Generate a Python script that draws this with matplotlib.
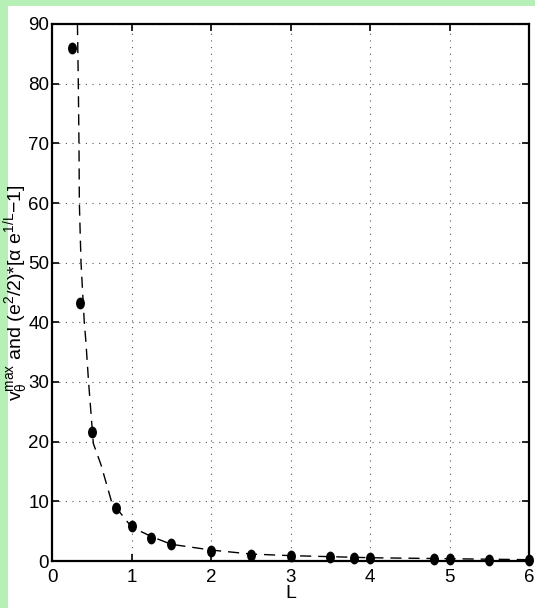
import numpy as np
import matplotlib
matplotlib.use("Agg")
import matplotlib.pyplot as plt
from matplotlib.path import Path
from matplotlib.patches import Rectangle
from matplotlib import font_manager

# ---- data ----
L_points = [0.25, 0.35, 0.5, 0.8, 1.0, 1.25, 1.5, 2.0, 2.5, 3.0, 3.5, 3.8, 4.0, 4.8, 5.0, 5.5, 6.0]
v_points = [86.0, 43.3, 21.6, 8.9, 5.9, 3.9, 2.8, 1.7, 1.06, 0.78, 0.62, 0.55, 0.5, 0.35, 0.33, 0.25, 0.22]

L_curve = [0.320, 0.331, 0.340, 0.344, 0.365, 0.406, 0.425, 0.46, 0.52, 0.617, 0.75, 1.0,
           1.25, 1.5, 2.0, 2.5, 3.0, 4.0, 5.0, 6.0]
v_curve = [90, 80, 69, 60, 50, 40, 37, 30, 19.7, 16.1, 9.9, 5.7,
           4.1, 2.8, 1.84, 1.17, 0.9, 0.55, 0.38, 0.22]

x_ticks = [0, 1, 2, 3, 4, 5, 6]
y_ticks = [0, 10, 20, 30, 40, 50, 60, 70, 80, 90]

# ---- font ----
names = {f.name for f in font_manager.fontManager.ttflist}
base_font = "Liberation Sans Narrow" if "Liberation Sans Narrow" in names else "Liberation Sans"
plt.rcParams["font.family"] = [base_font, "DejaVu Sans"]
plt.rcParams["mathtext.fontset"] = "custom"
plt.rcParams["mathtext.rm"] = base_font
plt.rcParams["mathtext.it"] = base_font
plt.rcParams["mathtext.default"] = "regular"

W, H = 535, 608
fig = plt.figure(figsize=(W / 100, H / 100), dpi=100)
fig.patch.set_facecolor("#b6f0b6")
fig.patches.append(Rectangle((8 / W, 0), 1, 1 - 6 / H, transform=fig.transFigure,
                             facecolor="white", edgecolor="none", zorder=-10))

ax = fig.add_axes([52 / W, 1 - 561 / H, (529 - 52) / W, (561 - 24) / H])
ax.set_zorder(1)
ax.set_facecolor("white")

# slightly tall elliptical dot marker
ell = Path.unit_circle()
ell = Path(ell.vertices * np.array([0.72, 1.0]), ell.codes)

ax.plot(L_curve, v_curve, color="black", lw=1.0, linestyle=(0, (8, 5)), zorder=3)
ax.plot(L_points, v_points, linestyle="none", marker=ell, markersize=7.5,
        color="black", zorder=4, clip_on=False)

ax.set_xlim(0, 6)
ax.set_ylim(0, 90)
ax.set_xticks(x_ticks)
ax.set_yticks(y_ticks)
ax.grid(True, color="#555555", linestyle=(0, (1, 5)), linewidth=0.8)
ax.tick_params(direction="in", length=5, width=1.2, top=True, right=True,
               labelsize=13.5, colors="black")
ax.tick_params(axis="x", pad=6)
ax.tick_params(axis="y", pad=2)
for s in ax.spines.values():
    s.set_linewidth(1.6)

ax.set_xlabel("L", fontsize=14, labelpad=-1)
ax.set_ylabel(r"$v_{\theta}^{max}$ and (e$^{2}$/2)*[$\alpha$ e$^{1/L}$$-$1]",
              fontsize=14)
ax.yaxis.set_label_coords(-0.046, 0.5)

fig.savefig("out.png", dpi=100, facecolor=fig.get_facecolor())
